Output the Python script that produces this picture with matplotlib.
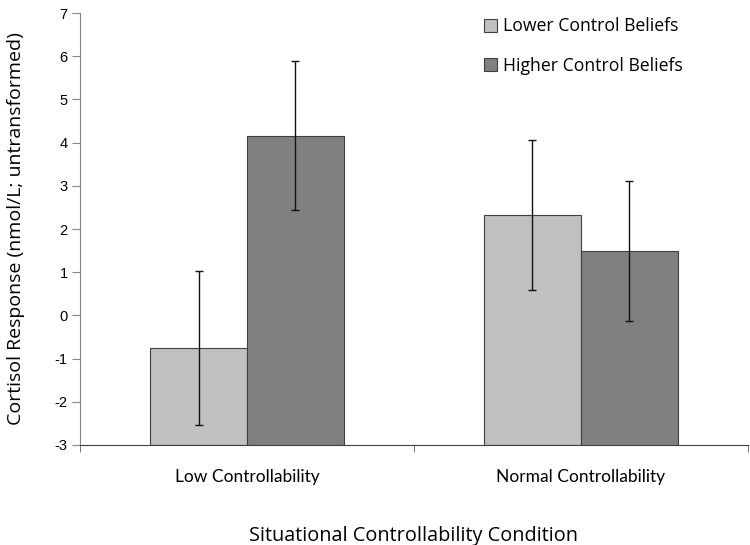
import numpy as np
import matplotlib
matplotlib.use("Agg")
import matplotlib.pyplot as plt

conditions = ["Low Controllability", "Normal Controllability"]
series = ["Lower Control Beliefs", "Higher Control Beliefs"]
lower_vals = [-0.75, 2.32]
higher_vals = [4.16, 1.49]
lower_err = [1.78, 1.74]
higher_err = [1.73, 1.62]
colors = ["#c0c0c0", "#808080"]

y_min, y_max = -3, 7

fig = plt.figure(figsize=(7.5, 5.45), dpi=100)
ax = fig.add_axes([0.1067, 0.1835, 0.8903, 0.7925])

x = np.arange(len(conditions))
width = 0.29
for i, (vals, errs) in enumerate([(lower_vals, lower_err), (higher_vals, higher_err)]):
    pos = x + (i - 0.5) * width
    heights = np.array(vals) - y_min
    ax.bar(pos, heights, width, bottom=y_min, color=colors[i],
           edgecolor="#404040", linewidth=0.8, label=series[i], zorder=2)
    ax.errorbar(pos, vals, yerr=errs, fmt="none", ecolor="#111111",
                elinewidth=1.0, capsize=3, capthick=1.0, zorder=3)

ax.set_xlim(-0.5, len(conditions) - 0.5)
ax.set_ylim(y_min, y_max)
ax.set_yticks(range(y_min, y_max + 1))
ax.set_yticklabels([str(v) for v in range(y_min, y_max + 1)],
                   fontsize=10.5, family="Liberation Sans")
ax.set_xticks(x)
ax.set_xticklabels(conditions, fontsize=12.5, family="Lato")
ax.set_xticks(np.arange(-0.5, len(conditions)), minor=True)
ax.tick_params(axis="x", which="major", length=0, pad=17)
ax.tick_params(axis="x", which="minor", length=5, direction="out", color="#606060")
ax.tick_params(axis="y", length=6, direction="out", color="#868686", pad=3)

for s in ["top", "right"]:
    ax.spines[s].set_visible(False)
ax.spines["left"].set_color("#868686")
ax.spines["bottom"].set_color("#404040")

ax.set_ylabel("Cortisol Response (nmol/L; untransformed)", fontsize=14,
              family="Open Sans", labelpad=21)
ax.set_xlabel("Situational Controllability Condition", fontsize=14.3,
              family="Open Sans", labelpad=30)

leg = ax.legend(loc="upper left", bbox_to_anchor=(0.605, 0.99), frameon=False,
                prop={"family": "Open Sans", "size": 12.7}, handlelength=0.75,
                handleheight=0.75, handletextpad=0.35, labelspacing=1.2,
                borderpad=0, borderaxespad=0)

fig.savefig("out.png", dpi=100)
